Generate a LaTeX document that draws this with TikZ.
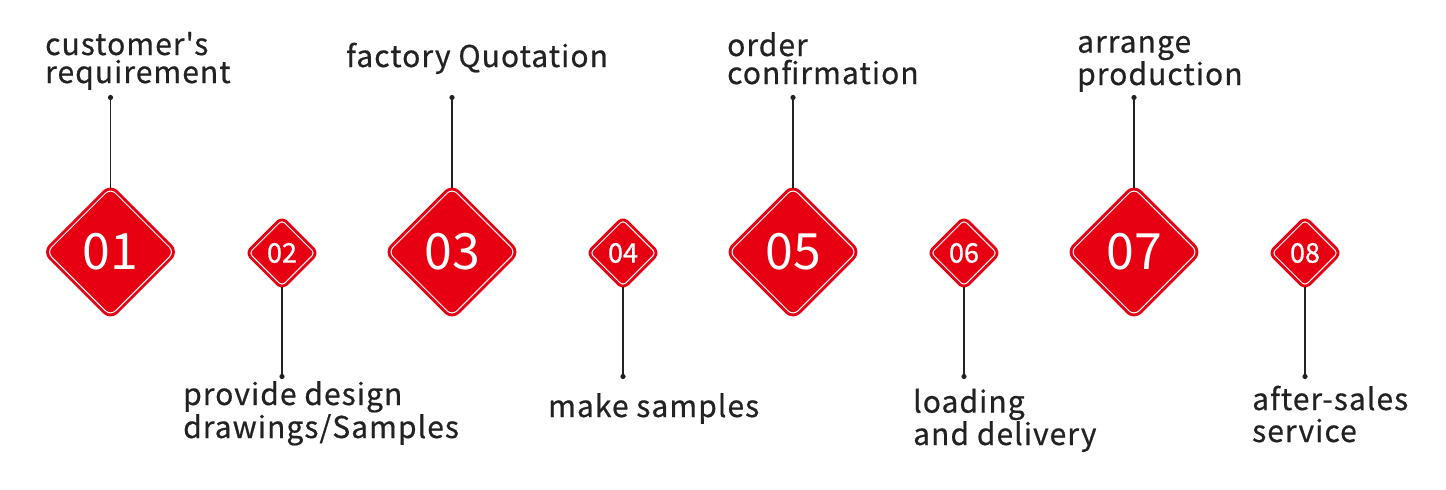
\documentclass[tikz,border=0pt]{standalone}
\usepackage{fontspec}
\setmainfont{Noto Sans CJK SC}[LetterSpace=3.5, Ligatures=TeXOff]
\usetikzlibrary{shapes.geometric, positioning}
\definecolor{rojo}{HTML}{E60012}
\definecolor{tinta}{HTML}{222222}

\begin{document}
\begin{tikzpicture}[x=1pt, y=-1pt,
    paso/.style={shape=diamond, aspect=1, inner sep=0pt, fill=rojo, draw=white, line width=1pt,
        rounded corners=#1, text=white, preaction={draw=rojo, line width=7pt, line join=round}},
    pasogrande/.style={paso=7pt, minimum size=128pt, font=\fontsize{50}{50}\selectfont\addfontfeature{LetterSpace=0}},
    pasochico/.style={paso=4pt, minimum size=66pt, font=\fontsize{27}{27}\selectfont\addfontfeature{LetterSpace=0, FakeBold=0.8}},
    etiqueta/.style={anchor=base west, inner sep=0pt, align=left, text=tinta,
        font=\fontsize{30}{28}\selectfont\addfontfeature{FakeBold=0.6}},
    linea/.style={draw=tinta, line width=1.1pt},
    punto/.style={fill=tinta}]
    \useasboundingbox (0,0) rectangle (1446,490);

    % Rombos numerados
    \node (d1) [pasogrande] at (110.5,252) {01};
    \node (d2) [pasochico] at (282,253) {02};
    \node (d3) [pasogrande] at (452,252) {03};
    \node (d4) [pasochico] at (623,253) {04};
    \node (d5) [pasogrande] at (793,252) {05};
    \node (d6) [pasochico] at (964,253) {06};
    \node (d7) [pasogrande] at (1134,252) {07};
    \node (d8) [pasochico] at (1305,253) {08};

    % Puntos de las lineas
    \coordinate [above=90pt of d1.north] (p1);
    \coordinate [below=90pt of d2.south] (p2);
    \coordinate [above=90pt of d3.north] (p3);
    \coordinate [below=90pt of d4.south] (p4);
    \coordinate [above=90pt of d5.north] (p5);
    \coordinate [below=90pt of d6.south] (p6);
    \coordinate [above=90pt of d7.north] (p7);
    \coordinate [below=90pt of d8.south] (p8);

    % Lineas hacia los rombos
    \draw[linea] (p1) -- (d1.north);
    \draw[linea] (p2) -- (d2.south);
    \draw[linea] (p3) -- (d3.north);
    \draw[linea] (p4) -- (d4.south);
    \draw[linea] (p5) -- (d5.north);
    \draw[linea] (p6) -- (d6.south);
    \draw[linea] (p7) -- (d7.north);
    \draw[linea] (p8) -- (d8.south);
    \fill[punto] (p1) circle (2.6pt) (p2) circle (2.6pt) (p3) circle (2.6pt) (p4) circle (2.6pt)
        (p5) circle (2.6pt) (p6) circle (2.6pt) (p7) circle (2.6pt) (p8) circle (2.6pt);

    % Textos de cada paso (base de la ultima linea)
    \node (t1) [etiqueta] at (45,83) {customer's\\requirement};
    \node (t3) [etiqueta] at (346,67) {factory Quotation};
    \node (t5) [etiqueta] at (727,84) {order\\confirmation};
    \node (t7) [etiqueta] at (1077,85) {arrange\\production};
    \node (t2) [etiqueta, font=\fontsize{30}{33}\selectfont\addfontfeature{FakeBold=0.6}] at (183,438) {provide design\\drawings/Samples};
    \node (t4) [etiqueta] at (548,417) {make samples};
    \node (t6) [etiqueta, font=\fontsize{30}{30}\selectfont\addfontfeature{FakeBold=0.6}] at (913,445) {loading\\and delivery};
    \node (t8) [etiqueta, font=\fontsize{30}{32}\selectfont\addfontfeature{FakeBold=0.6}] at (1252,442) {after-sales\\service};
\end{tikzpicture}
\end{document}
